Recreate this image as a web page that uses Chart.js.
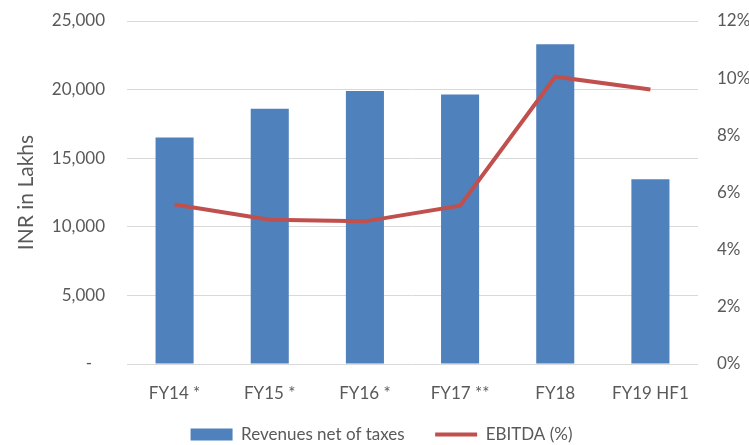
<!DOCTYPE html>
<html>
<head>
<meta charset="utf-8">
<script src="https://cdn.jsdelivr.net/npm/chart.js@4"></script>
<style>
  html, body { margin: 0; padding: 0; background: #fff; }
  #wrap { width: 749px; height: 445px; }
</style>
</head>
<body>
<div id="wrap"><canvas id="chart"></canvas></div>
<script>
const categories = ['FY14 *', 'FY15 *', 'FY16 *', 'FY17 **', 'FY18', 'FY19 HF1'];
const revenues = [16500, 18600, 19900, 19650, 23300, 13470];
const ebitda = [5.58, 5.05, 4.99, 5.54, 10.05, 9.6];
const leftTicks = [0, 5000, 10000, 15000, 20000, 25000];
const rightTicks = [0, 2, 4, 6, 8, 10, 12];

const font = "Lato, 'Open Sans', sans-serif";
const grey = '#595959';

const ctx = document.getElementById('chart').getContext('2d');
new Chart(ctx, {
  data: {
    labels: categories,
    datasets: [
      {
        type: 'line',
        label: 'EBITDA (%)',
        data: ebitda,
        yAxisID: 'y1',
        borderColor: '#C0504D',
        backgroundColor: '#C0504D',
        borderWidth: 4,
        pointRadius: 0,
        tension: 0,
        order: 0,
        pointStyle: 'line'
      },
      {
        type: 'bar',
        label: 'Revenues net of taxes',
        data: revenues,
        yAxisID: 'y',
        backgroundColor: '#4F81BD',
        categoryPercentage: 1,
        barPercentage: 0.4,
        order: 1,
        pointStyle: 'rect'
      }
    ]
  },
  options: {
    responsive: true,
    maintainAspectRatio: false,
    animation: false,
    layout: { padding: { top: 21, bottom: -8, left: 14, right: 0 } },
    plugins: {
      tooltip: { enabled: false },
      legend: {
        position: 'bottom',
        reverse: true,
        labels: {
          usePointStyle: true,
          pointStyleWidth: 42,
          boxHeight: 12,
          padding: 0,
          color: grey,
          font: { family: font, size: 17 },
          generateLabels: chart => {
            const items = Chart.defaults.plugins.legend.labels.generateLabels(chart);
            // extra room between the two entries
            items.forEach(it => { if (it.text === 'Revenues net of taxes') it.text += '       '; });
            return items;
          }
        }
      }
    },
    scales: {
      x: {
        grid: { display: false },
        border: { display: false },
        ticks: { color: grey, font: { family: font, size: 17 }, padding: 11 },
        afterFit: s => { s.height = 62; }
      },
      y: {
        position: 'left',
        min: 0,
        max: 25000,
        afterBuildTicks: s => { s.ticks = leftTicks.map(v => ({ value: v })); },
        grid: { color: '#d9d9d9', lineWidth: 1, drawTicks: false },
        border: { display: false },
        ticks: {
          color: grey,
          font: { family: font, size: 17 },
          padding: 22,
          callback: v => v === 0 ? '-   ' : v.toLocaleString('en-US')
        },
        title: {
          display: true,
          text: 'INR in Lakhs',
          color: grey,
          font: { family: font, size: 21 },
          padding: { top: 0, bottom: 4 }
        },
        afterFit: s => { s.width = 113; s.paddingTop = 0; s.paddingBottom = 0; }
      },
      y1: {
        position: 'right',
        min: 0,
        max: 12,
        afterBuildTicks: s => { s.ticks = rightTicks.map(v => ({ value: v })); },
        grid: { display: false, drawTicks: false },
        border: { display: false },
        ticks: {
          color: grey,
          font: { family: font, size: 17 },
          padding: 19,
          callback: v => v + '%'
        },
        afterFit: s => { s.width = 51; s.paddingTop = 0; s.paddingBottom = 0; }
      }
    }
  }
});
</script>
</body>
</html>
